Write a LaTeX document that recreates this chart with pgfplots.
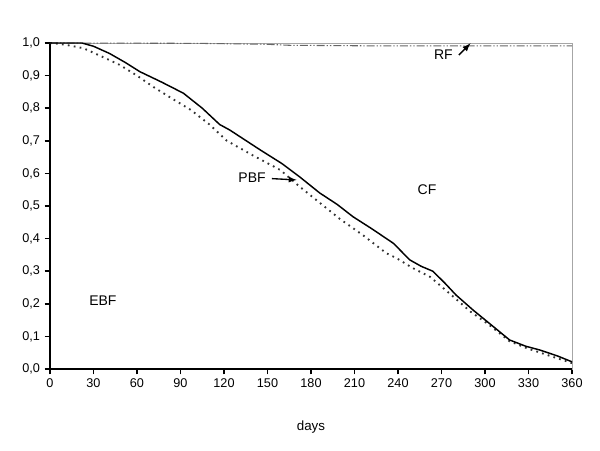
\documentclass[border=0pt]{standalone}
\usepackage{pgfplots}
\pgfplotsset{compat=1.18}
\usepackage{fontspec}
\setmainfont{Liberation Sans}
\begin{document}
\begin{tikzpicture}[font=\fontsize{9.5}{11}\selectfont]
\begin{axis}[
  name=ax,
  scale only axis,
  width=391.5pt, height=244.5pt,
  xmin=0, xmax=360, ymin=0, ymax=1,
  xtick={0,30,...,360},
  ytick={0,0.1,...,1.0},
  xtick pos=left, ytick pos=left,
  tick align=outside,
  major tick length=4pt,
  tick style={black, line width=1.1pt},
  axis line style={gray!70, line width=0.6pt},
  /pgf/number format/assume math mode=true,
  yticklabel style={/pgf/number format/.cd, fixed, fixed zerofill, precision=1, use comma},
  xticklabel style={/pgf/number format/.cd, fixed, precision=0},
  xlabel={days},
  xlabel style={yshift=-18pt, font=\fontsize{10}{12}\selectfont},
  clip=false,
]
% frame emphasis (left & bottom)
\draw[black, line width=1.5pt] (rel axis cs:0,1) -- (rel axis cs:0,0) -- (rel axis cs:1,0);
% RF
\addplot[gray!80!black, line width=0.8pt, dash pattern=on 6pt off 1.5pt on 1pt off 1.5pt on 1pt off 1.5pt] coordinates {
(0,1.0) (100,0.999) (150,0.996) (165,0.993) (230,0.991) (360,0.991)};
% dotted
\addplot[black!80, line width=1.4pt, dash pattern=on 1.3pt off 3.2pt] coordinates {
(0,1.0) (5,0.998) (11.5,0.994) (23,0.984) (35,0.96) (48,0.933) (60,0.90) (71,0.866)
(84,0.83) (97,0.795) (110,0.75) (122,0.70) (140,0.655) (159,0.61) (172,0.56)
(186,0.51) (200,0.46) (216,0.41) (232,0.355) (239,0.34) (250,0.31) (262,0.283)
(276,0.23) (290,0.176) (303,0.135) (317,0.085) (330,0.062) (345,0.04) (360,0.018)};
% solid
\addplot[black, line width=1.1pt] coordinates {
(0,1.0) (22,1.0) (30,0.99) (41,0.968) (52,0.94) (62,0.912) (77,0.88) (92,0.846)
(105,0.80) (117,0.75) (124,0.733) (145,0.672) (160,0.63) (172,0.59) (186,0.54)
(198,0.505) (209,0.467) (222,0.43) (237,0.385) (248,0.335) (256,0.315) (264,0.30)
(272,0.265) (280,0.227) (292,0.18) (303,0.14) (317,0.089) (328,0.07) (338,0.058)
(350,0.04) (360,0.022)};
\begin{scope}[font=\fontsize{10.5}{12}\selectfont]
\node at (axis cs:36.5,0.21) {EBF};
\node at (axis cs:260,0.55) {CF};
\node[anchor=east] at (axis cs:152,0.588) {PBF};
\draw[-latex, line width=1pt] (axis cs:153,0.584) -- (axis cs:170,0.58);
\node[anchor=east] at (axis cs:281,0.963) {RF};
\draw[-latex, line width=1.1pt] (axis cs:282,0.963) -- (axis cs:290,0.999);
\end{scope}
\end{axis}
\path ([xshift=-37.5pt,yshift=-60.75pt]ax.south west) rectangle ([xshift=21pt,yshift=32.25pt]ax.north east);
\end{tikzpicture}
\end{document}
